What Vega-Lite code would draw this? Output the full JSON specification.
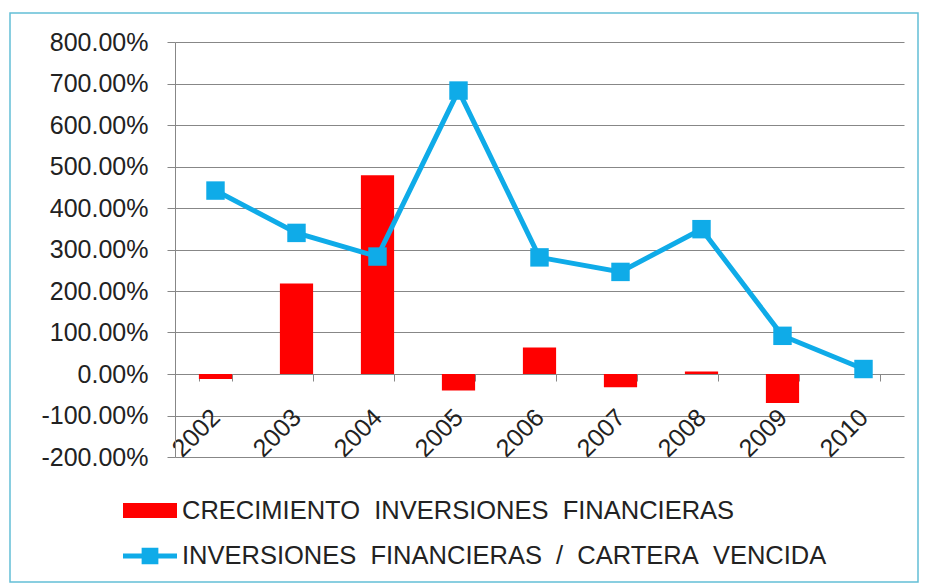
{
  "$schema": "https://vega.github.io/schema/vega-lite/v6.json",
  "width": 908,
  "height": 569,
  "autosize": {"type": "none"},
  "padding": {"left": 10, "top": 13, "right": 9, "bottom": 3},
  "background": "white",
  "config": {
    "locale": {"number": {"decimal": ".", "thousands": ",", "grouping": [3], "currency": ["$", ""], "minus": "-"}},
    "view": {"stroke": "#63bfd6", "strokeWidth": 1.5},
    "font": "Liberation Sans",
    "axis": {
      "labelFont": "Liberation Sans",
      "labelFontSize": 25,
      "labelColor": "#222222",
      "domainColor": "#878787",
      "tickColor": "#878787",
      "gridColor": "#878787",
      "gridOpacity": 1,
      "title": null
    }
  },
  "data": {
    "values": [
      {"year": "2002", "crecimiento": -0.12, "ratio": 4.42},
      {"year": "2003", "crecimiento": 2.18, "ratio": 3.40},
      {"year": "2004", "crecimiento": 4.79, "ratio": 2.83},
      {"year": "2005", "crecimiento": -0.40, "ratio": 6.83},
      {"year": "2006", "crecimiento": 0.64, "ratio": 2.81},
      {"year": "2007", "crecimiento": -0.32, "ratio": 2.46},
      {"year": "2008", "crecimiento": 0.06, "ratio": 3.49},
      {"year": "2009", "crecimiento": -0.70, "ratio": 0.92},
      {"year": "2010", "crecimiento": null, "ratio": 0.12}
    ]
  },
  "encoding": {
    "x": {
      "field": "year",
      "type": "ordinal",
      "scale": {"range": [165, 894], "paddingInner": 0.59, "paddingOuter": 0.295},
      "axis": {
        "orient": "bottom",
        "offset": -208,
        "labelAngle": -45,
        "labelAlign": "right",
        "labelBaseline": "middle",
        "labelPadding": 32,
        "tickBand": "extent",
        "tickSize": 7,
        "domain": true,
        "grid": false,
        "title": null
      }
    }
  },
  "layer": [
    {
      "mark": {"type": "bar"},
      "encoding": {
        "y": {
          "field": "crecimiento",
          "type": "quantitative",
          "scale": {"domain": [-2, 8], "range": [444, 29], "nice": false, "zero": false},
          "axis": {
            "orient": "left",
            "offset": -165,
            "values": [-2, -1, 0, 1, 2, 3, 4, 5, 6, 7, 8],
            "format": ".2%",
            "tickSize": 8,
            "labelPadding": 19,
            "grid": true,
            "domain": true,
            "title": null
          }
        },
        "color": {
          "datum": "CRECIMIENTO INVERSIONES FINANCIERAS",
          "scale": {
            "domain": ["CRECIMIENTO INVERSIONES FINANCIERAS", "INVERSIONES FINANCIERAS / CARTERA VENCIDA"],
            "range": ["#ff0000", "#0fabe8"]
          },
          "legend": {
            "title": null,
            "orient": "none",
            "legendX": 113,
            "legendY": 470.5,
            "direction": "vertical",
            "padding": 0,
            "symbolSize": 2916,
            "labelFontSize": 25.5,
            "labelFont": "Liberation Sans",
            "labelColor": "#222222",
            "labelLimit": 900,
            "labelOffset": 5,
            "rowPadding": 4.5,
            "labelExpr": "replace(datum.label, regexp(' ', 'g'), '\u00a0\u00a0')",
            "encode": {
              "symbols": {
                "update": {
                  "shape": {"signal": "datum.value == 'CRECIMIENTO INVERSIONES FINANCIERAS' ? 'M-1,-0.28H1V0.28H-1Z' : 'M-1,-0.09H-0.31V-0.31H0.31V-0.09H1V0.09H0.31V0.31H-0.31V0.09H-1Z'"},
                  "fill": {"scale": "color", "field": "value"},
                  "stroke": {"value": "transparent"},
                  "strokeWidth": {"value": 0},
                  "opacity": {"value": 1},
                  "fillOpacity": {"value": 1}
                }
              }
            }
          }
        }
      }
    },
    {
      "mark": {"type": "line", "strokeWidth": 5, "point": {"shape": "square", "size": 340, "filled": true, "opacity": 1}},
      "encoding": {
        "y": {"field": "ratio", "type": "quantitative"},
        "color": {"datum": "INVERSIONES FINANCIERAS / CARTERA VENCIDA"}
      }
    }
  ]
}
